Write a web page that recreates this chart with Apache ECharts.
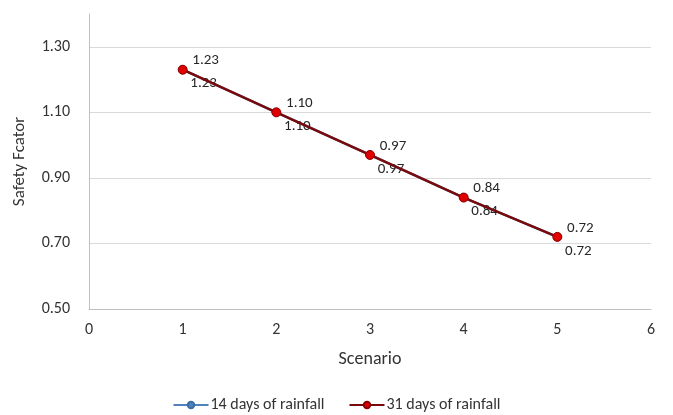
<!DOCTYPE html>
<html>
<head>
<meta charset="utf-8">
<script src="https://cdn.jsdelivr.net/npm/echarts@6/dist/echarts.min.js"></script>
<style>
  html, body { margin: 0; padding: 0; background: #fff; }
  #chart { width: 673px; height: 415px; }
</style>
</head>
<body>
<div id="chart"></div>
<script>
// Scenario numbers on the x axis
const scenarios = [1, 2, 3, 4, 5];
// Safety factor per scenario for each rainfall duration
const rain14 = [1.23, 1.10, 0.97, 0.84, 0.72];
const rain31 = [1.23, 1.10, 0.97, 0.84, 0.72];
const seriesNames = ['14 days of rainfall', '31 days of rainfall'];

const FONT = "Carlito, 'Liberation Sans Narrow', Lato, 'Open Sans', sans-serif";

const chart = echarts.init(document.getElementById('chart'), null, { renderer: 'canvas' });

function pairs(ys) {
  return scenarios.map((x, i) => [x, ys[i]]);
}

chart.setOption({
  animation: false,
  backgroundColor: '#ffffff',
  textStyle: { fontFamily: FONT },
  grid: { left: 89, right: 22, top: 14, bottom: 106, containLabel: false },
  legend: {
    top: 392,
    left: 'center',
    itemGap: 24,
    itemWidth: 35,
    itemHeight: 8,
    textStyle: { fontFamily: FONT, fontSize: 16, color: '#333', padding: [0, 0, 0, -3] },
    data: seriesNames
  },
  xAxis: {
    type: 'value',
    min: 0,
    max: 6,
    interval: 1,
    name: 'Scenario',
    nameLocation: 'middle',
    nameGap: 41,
    nameTextStyle: { fontFamily: FONT, fontSize: 18, color: '#333' },
    axisLine: { show: true, lineStyle: { color: '#bfbfbf', width: 1 } },
    axisTick: { show: false },
    splitLine: { show: false },
    axisLabel: { fontFamily: FONT, fontSize: 16, color: '#333', margin: 13 }
  },
  yAxis: {
    type: 'value',
    min: 0.5,
    max: 1.4,
    interval: 0.2,
    name: 'Safety Fcator',
    nameLocation: 'middle',
    nameGap: 61,
    nameTextStyle: { fontFamily: FONT, fontSize: 17, color: '#333' },
    axisLine: { show: true, lineStyle: { color: '#bfbfbf', width: 1 } },
    axisTick: { show: false },
    splitLine: { show: true, showMaxLine: false, lineStyle: { color: '#d9d9d9', width: 1 } },
    axisLabel: {
      fontFamily: FONT, fontSize: 16, color: '#333', margin: 19,
      showMaxLabel: false,
      formatter: v => v.toFixed(2)
    }
  },
  series: [
    {
      name: seriesNames[0],
      type: 'line',
      data: pairs(rain14),
      symbol: 'circle',
      symbolSize: 8,
      z: 2,
      lineStyle: { color: '#4f81bd', width: 2.5 },
      itemStyle: { color: '#4f81bd', borderColor: '#3a6ea5', borderWidth: 1 },
      label: {
        show: true,
        position: 'inside',
        offset: [21, 14],
        fontFamily: FONT,
        fontSize: 15,
        color: '#262626',
        formatter: p => p.value[1].toFixed(2)
      }
    },
    {
      name: seriesNames[1],
      type: 'line',
      data: pairs(rain31),
      symbol: 'circle',
      symbolSize: 9,
      z: 3,
      lineStyle: { color: '#7a0a0a', width: 2.5 },
      itemStyle: { color: '#e00000', borderColor: '#8b0000', borderWidth: 1 },
      label: {
        show: true,
        position: 'inside',
        offset: [23, -9],
        fontFamily: FONT,
        fontSize: 15,
        color: '#262626',
        formatter: p => p.value[1].toFixed(2)
      }
    }
  ]
});
</script>
</body>
</html>
